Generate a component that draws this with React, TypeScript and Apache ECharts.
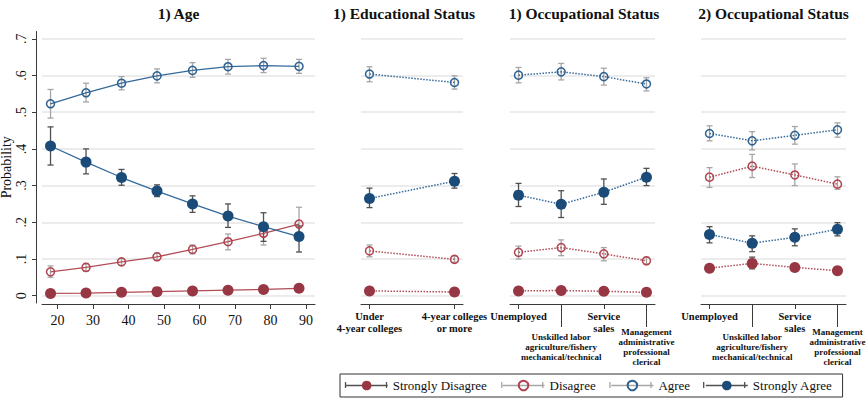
import React, { useEffect, useRef } from 'react';
import * as echarts from 'echarts';

const FONT = '"Liberation Serif", "Times New Roman", Times, serif';

// ---------- tick labels / categories ----------
const yTicks = [0, 0.1, 0.2, 0.3, 0.4, 0.5, 0.6, 0.7];
const yTickLabels = ['0', '.1', '.2', '.3', '.4', '.5', '.6', '.7'];
const ageX = [18, 28, 38, 48, 58, 68, 78, 88];
const ageTicks = [20, 30, 40, 50, 60, 70, 80, 90];
const eduX = [0, 1];
const eduLabels = ['Under\n4-year colleges', '4-year colleges\nor more'];
const occX = [0, 1, 2, 3];
const occLabels = [
  'Unemployed',
  'Unskilled labor\nagriculture/fishery\nmechanical/technical',
  'Service\nsales',
  'Management\nadministrative\nprofessional\nclerical',
];
const seriesNames = ['Strongly Disagree', 'Disagree', 'Agree', 'Strongly Agree'];
const titles = ['1) Age', '1) Educational Status', '1) Occupational Status', '2) Occupational Status'];

// ---------- 1) Age ----------
const ageSD = [0.006, 0.007, 0.009, 0.011, 0.013, 0.015, 0.017, 0.02];
const ageSDLo = [0.004, 0.005, 0.007, 0.009, 0.011, 0.012, 0.013, 0.015];
const ageSDHi = [0.008, 0.009, 0.011, 0.013, 0.015, 0.018, 0.021, 0.025];
const ageD = [0.065, 0.077, 0.092, 0.106, 0.126, 0.147, 0.17, 0.195];
const ageDLo = [0.05, 0.066, 0.083, 0.097, 0.114, 0.125, 0.138, 0.152];
const ageDHi = [0.081, 0.088, 0.101, 0.116, 0.138, 0.168, 0.19, 0.241];
const ageA = [0.523, 0.553, 0.579, 0.599, 0.614, 0.624, 0.627, 0.625];
const ageALo = [0.484, 0.528, 0.561, 0.58, 0.595, 0.604, 0.608, 0.606];
const ageAHi = [0.562, 0.579, 0.597, 0.618, 0.635, 0.644, 0.647, 0.644];
const ageSA = [0.408, 0.364, 0.322, 0.285, 0.25, 0.217, 0.188, 0.161];
const ageSALo = [0.356, 0.332, 0.301, 0.27, 0.227, 0.186, 0.148, 0.119];
const ageSAHi = [0.46, 0.4, 0.344, 0.302, 0.272, 0.25, 0.226, 0.19];

// ---------- 1) Educational Status ----------
const eduSD = [0.013, 0.01];
const eduSDLo = [0.011, 0.008];
const eduSDHi = [0.015, 0.012];
const eduD = [0.122, 0.099];
const eduDLo = [0.106, 0.091];
const eduDHi = [0.138, 0.108];
const eduA = [0.604, 0.581];
const eduALo = [0.583, 0.563];
const eduAHi = [0.624, 0.599];
const eduSA = [0.265, 0.312];
const eduSALo = [0.24, 0.293];
const eduSAHi = [0.293, 0.333];

// ---------- 1) Occupational Status ----------
const occ1SD = [0.013, 0.014, 0.012, 0.009];
const occ1SDLo = [0.01, 0.011, 0.009, 0.007];
const occ1SDHi = [0.016, 0.017, 0.015, 0.011];
const occ1D = [0.118, 0.131, 0.114, 0.095];
const occ1DLo = [0.1, 0.109, 0.095, 0.086];
const occ1DHi = [0.135, 0.152, 0.131, 0.105];
const occ1A = [0.601, 0.61, 0.597, 0.577];
const occ1ALo = [0.58, 0.588, 0.574, 0.558];
const occ1AHi = [0.622, 0.633, 0.62, 0.594];
const occ1SA = [0.274, 0.249, 0.282, 0.323];
const occ1SALo = [0.243, 0.213, 0.249, 0.3];
const occ1SAHi = [0.306, 0.286, 0.318, 0.347];

// ---------- 2) Occupational Status ----------
const occ2SD = [0.075, 0.088, 0.077, 0.068];
const occ2SDLo = [0.066, 0.073, 0.068, 0.062];
const occ2SDHi = [0.084, 0.105, 0.087, 0.075];
const occ2D = [0.323, 0.353, 0.329, 0.304];
const occ2DLo = [0.295, 0.322, 0.3, 0.29];
const occ2DHi = [0.349, 0.385, 0.359, 0.324];
const occ2A = [0.442, 0.422, 0.437, 0.452];
const occ2ALo = [0.422, 0.397, 0.413, 0.432];
const occ2AHi = [0.463, 0.447, 0.461, 0.471];
const occ2SA = [0.167, 0.143, 0.159, 0.181];
const occ2SALo = [0.144, 0.12, 0.136, 0.163];
const occ2SAHi = [0.188, 0.163, 0.182, 0.199];

// ---------- styles ----------
const AXIS = { color: '#3a3a3a', width: 1 };
const styles = [
  { fill: '#973743', border: '#973743', line: '#b24c57', size: 11, bar: '#505050', hollow: false },
  { fill: 'rgba(255,255,255,0)', border: '#b0434f', line: '#b24c57', size: 8, bar: '#a6a6a6', hollow: true },
  { fill: 'rgba(255,255,255,0)', border: '#2d6192', line: '#35699a', size: 8, bar: '#a6a6a6', hollow: true },
  { fill: '#1b4b78', border: '#1b4b78', line: '#35699a', size: 11, bar: '#505050', hollow: false },
];

function errorSeries(key: string, xs: number[], lo: number[], hi: number[], color: string, axisIdx: number, gridIdx: number) {
  return {
    type: 'custom',
    name: key,
    xAxisIndex: axisIdx,
    yAxisIndex: gridIdx,
    silent: true,
    z: 1,
    data: xs.map((x, i) => [x, lo[i], hi[i]]),
    encode: { x: 0, y: [1, 2] },
    renderItem: (params: any, api: any) => {
      const x = api.value(0);
      const p1 = api.coord([x, api.value(1)]);
      const p2 = api.coord([x, api.value(2)]);
      const w = 3;
      const st = { stroke: color, lineWidth: 1.3 };
      return {
        type: 'group',
        children: [
          { type: 'line', shape: { x1: p1[0], y1: p1[1], x2: p2[0], y2: p2[1] }, style: st },
          { type: 'line', shape: { x1: p1[0] - w, y1: p1[1], x2: p1[0] + w, y2: p1[1] }, style: st },
          { type: 'line', shape: { x1: p2[0] - w, y1: p2[1], x2: p2[0] + w, y2: p2[1] }, style: st },
        ],
      };
    },
  };
}

function lineSeries(si: number, xs: number[], ys: number[], axisIdx: number, gridIdx: number, dotted: boolean) {
  const s = styles[si];
  return {
    type: 'line',
    name: seriesNames[si],
    xAxisIndex: axisIdx,
    yAxisIndex: gridIdx,
    z: 3,
    data: xs.map((x, i) => [x, ys[i]]),
    symbol: 'circle',
    symbolSize: s.size,
    showSymbol: true,
    itemStyle: { color: s.fill, borderColor: s.border, borderWidth: s.hollow ? 1.5 : 0 },
    lineStyle: { color: s.line, width: dotted ? 1.5 : 1.3, type: dotted ? 'dotted' : 'solid' },
    emphasis: { disabled: true },
  };
}

const panels = [
  { xs: ageX, axis: 0, grid: 0, dotted: false, groups: [[ageSD, ageSDLo, ageSDHi], [ageD, ageDLo, ageDHi], [ageA, ageALo, ageAHi], [ageSA, ageSALo, ageSAHi]] },
  { xs: eduX, axis: 1, grid: 1, dotted: true, groups: [[eduSD, eduSDLo, eduSDHi], [eduD, eduDLo, eduDHi], [eduA, eduALo, eduAHi], [eduSA, eduSALo, eduSAHi]] },
  { xs: occX, axis: 2, grid: 2, dotted: true, groups: [[occ1SD, occ1SDLo, occ1SDHi], [occ1D, occ1DLo, occ1DHi], [occ1A, occ1ALo, occ1AHi], [occ1SA, occ1SALo, occ1SAHi]] },
  { xs: occX, axis: 4, grid: 3, dotted: true, groups: [[occ2SD, occ2SDLo, occ2SDHi], [occ2D, occ2DLo, occ2DHi], [occ2A, occ2ALo, occ2AHi], [occ2SA, occ2SALo, occ2SAHi]] },
];

const series: any[] = [];
panels.forEach((p, pi) => {
  p.groups.forEach((g, gi) => {
    series.push(errorSeries('ci-' + pi + '-' + gi, p.xs, g[1], g[2], styles[gi].bar, p.axis, p.grid));
  });
});
panels.forEach((p) => {
  p.groups.forEach((g, gi) => {
    series.push(lineSeries(gi, p.xs, g[0], p.axis, p.grid, p.dotted));
  });
});

const grids = [
  { left: 42, top: 31.5, width: 273, height: 271.5 },
  { left: 361, top: 31.5, width: 102, height: 271.5 },
  { left: 510, top: 31.5, width: 145, height: 271.5 },
  { left: 701, top: 31.5, width: 145, height: 271.5 },
].map((g) => ({ ...g, containLabel: false, outerBoundsMode: 'none' }));

const titleCenters = [178.5, 404, 584, 773.5];

const catLabel = (labels: string[]) => (v: number) => labels[Math.round(v)];

const bigCat = { fontFamily: FONT, fontSize: 10.5, fontWeight: 'bold', color: '#111', lineHeight: 12 };
const smallCat = { fontFamily: FONT, fontSize: 9, fontWeight: 'bold', color: '#111', lineHeight: 10.2 };

function occAxes(gridIdx: number) {
  return [
    {
      type: 'value', gridIndex: gridIdx, position: 'bottom', min: -0.2, max: 3.2, offset: 1,
      axisLine: { show: true, onZero: false, lineStyle: AXIS },
      axisTick: { show: true, customValues: [0, 2], length: 5, lineStyle: AXIS },
      axisLabel: { customValues: [0, 2], formatter: catLabel(occLabels), margin: 6, ...bigCat },
      splitLine: { show: false },
    },
    {
      type: 'value', gridIndex: gridIdx, position: 'bottom', min: -0.2, max: 3.2, offset: 1,
      axisLine: { show: false, onZero: false },
      axisTick: { show: true, customValues: [1, 3], length: 23, lineStyle: AXIS },
      axisLabel: { customValues: [1, 3], formatter: catLabel(occLabels), margin: 43, verticalAlign: 'middle', ...smallCat },
      splitLine: { show: false },
    },
  ];
}

const xAxes = [
  {
    type: 'value', gridIndex: 0, position: 'bottom', min: 15.6, max: 92.5, offset: 1,
    axisLine: { show: true, onZero: false, lineStyle: AXIS },
    axisTick: { show: true, customValues: ageTicks, length: 5, lineStyle: AXIS },
    axisLabel: { customValues: ageTicks, margin: 9, fontFamily: FONT, fontSize: 14, color: '#111' },
    splitLine: { show: false },
  },
  {
    type: 'value', gridIndex: 1, position: 'bottom', min: -0.1, max: 1.1, offset: 1,
    axisLine: { show: true, onZero: false, lineStyle: AXIS },
    axisTick: { show: true, customValues: [0, 1], length: 5, lineStyle: AXIS },
    axisLabel: { customValues: [0, 1], formatter: catLabel(eduLabels), margin: 6, ...bigCat },
    splitLine: { show: false },
  },
  ...occAxes(2),
  ...occAxes(3),
];

const splitLine = { show: true, lineStyle: { color: '#e6e6e6', width: 1.5 } };
const yLabel = (v: number) => yTickLabels[Math.round(v * 10)];

const yAxes = [0, 1, 2, 3].map((gi) =>
  gi === 0
    ? {
        type: 'value', gridIndex: 0, min: -0.02, max: 0.72, offset: 6,
        axisLine: { show: true, onZero: false, lineStyle: AXIS },
        axisTick: { show: true, customValues: yTicks, length: 4, lineStyle: AXIS },
        axisLabel: { customValues: yTicks, formatter: yLabel, rotate: 90, margin: 8, fontFamily: FONT, fontSize: 14, color: '#111' },
        splitLine,
        name: 'Probability', nameLocation: 'middle', nameGap: 17,
        nameTextStyle: { fontFamily: FONT, fontSize: 14, color: '#111' },
      }
    : {
        type: 'value', gridIndex: gi, min: -0.02, max: 0.72,
        axisLine: { show: false, onZero: false },
        axisTick: { show: false, customValues: yTicks },
        axisLabel: { show: false },
        splitLine,
      }
);

// legend layout constants
const LEG_LEFT = 340;
const LEG_TOP = 374;
const LEG_PAD = [5, 10, 5, 5];
const LEG_ICON_W = 42;
const LEG_ICON_H = 12;
const LEG_GAP = 15;
const LEG_FONT = 13;
const legendLineColor = (i: number) => (styles[i].hollow ? '#a6a6a6' : '#505050');

function legendCaps() {
  const canvas = document.createElement('canvas');
  const ctx = canvas.getContext('2d');
  const out: any[] = [];
  if (!ctx) return out;
  ctx.font = LEG_FONT + 'px ' + FONT;
  let x = LEG_LEFT + LEG_PAD[3];
  const yc = LEG_TOP + LEG_PAD[0] + LEG_ICON_H / 2;
  seriesNames.forEach((n, i) => {
    const st = { stroke: legendLineColor(i), lineWidth: 1.3 };
    [x + 0.5, x + LEG_ICON_W - 0.5].forEach((cx) => {
      out.push({ type: 'line', silent: true, z: 100, shape: { x1: cx, y1: yc - 3, x2: cx, y2: yc + 3 }, style: st });
    });
    x += LEG_ICON_W + 5 + ctx.measureText(n).width + LEG_GAP;
  });
  return out;
}

const option: any = {
  animation: false,
  backgroundColor: '#ffffff',
  textStyle: { fontFamily: FONT },
  title: titles.map((t, i) => ({
    text: t, left: titleCenters[i], top: 5, textAlign: 'center', padding: 0,
    textStyle: { fontFamily: FONT, fontSize: 15.5, fontWeight: 'bold', color: '#111' },
  })),
  grid: grids,
  xAxis: xAxes,
  yAxis: yAxes,
  legend: {
    left: LEG_LEFT, top: LEG_TOP,
    data: seriesNames.map((n, i) => ({
      name: n,
      lineStyle: { color: legendLineColor(i), width: 1.3, type: 'solid' },
      textStyle: { fontFamily: FONT, fontSize: LEG_FONT, color: '#111' },
    })),
    itemWidth: LEG_ICON_W, itemHeight: LEG_ICON_H, itemGap: LEG_GAP,
    borderColor: '#333', borderWidth: 1, borderRadius: 0,
    padding: LEG_PAD,
    selectedMode: false,
    textStyle: { fontFamily: FONT, fontSize: LEG_FONT, color: '#111' },
  },
  series,
};

export default function App() {
  const ref = useRef<HTMLDivElement>(null);
  useEffect(() => {
    const chart = echarts.init(ref.current as HTMLDivElement, null, { renderer: 'svg' });
    chart.setOption({ ...option, graphic: legendCaps() });
    return () => chart.dispose();
  }, []);
  return (
    <div
      ref={ref}
      style={{ position: 'fixed', left: 0, top: 0, width: 867, height: 402, background: '#fff' }}
    />
  );
}
